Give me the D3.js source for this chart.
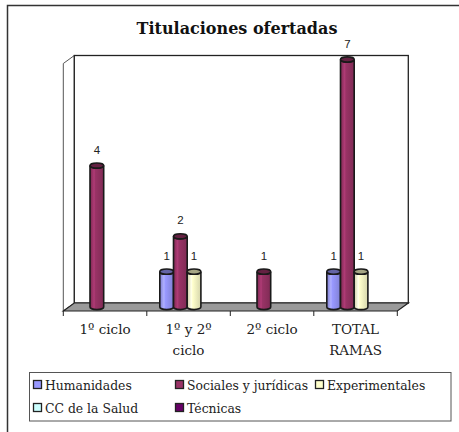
<!DOCTYPE html>
<html><head><meta charset="utf-8">
<script src="https://cdnjs.cloudflare.com/ajax/libs/d3/7.8.5/d3.min.js"></script>
<style>body{margin:0;background:#fff}svg{display:block}.serif{font-family:"DejaVu Serif","Liberation Serif",serif}.sans{font-family:"Liberation Sans",Arial,sans-serif}</style></head>
<body>
<script>
// ---- data ----
const title = "Titulaciones ofertadas";
const categories = ["1º ciclo", "1º y 2º ciclo", "2º ciclo", "TOTAL RAMAS"];
const categoryLines = [["1º ciclo"], ["1º y 2º", "ciclo"], ["2º ciclo"], ["TOTAL", "RAMAS"]];
const seriesNames = ["Humanidades", "Sociales y jurídicas", "Experimentales", "CC de la Salud", "Técnicas"];
const humanidades = [0, 1, 0, 1];
const socialesJuridicas = [4, 2, 1, 7];
const experimentales = [0, 1, 0, 1];
const ccSalud = [0, 0, 0, 0];
const tecnicas = [0, 0, 0, 0];
const seriesValues = [humanidades, socialesJuridicas, experimentales, ccSalud, tecnicas];
const seriesColors = ["#9999FF", "#993366", "#FFFFCC", "#CCFFFF", "#660066"];
const yMax = 7;

// ---- layout ----
const W = 459, H = 432;
const svg = d3.select("body").append("svg").attr("width", W).attr("height", H);
const defs = svg.append("defs");

const depthX = 11, depthY = 8;
const frontLeft = 63.3, frontRight = 397.3;
const baseMid = 307;
const x = d3.scaleBand().domain(categories).range([frontLeft, frontRight]).padding(0);
const y = d3.scaleLinear().domain([0, yMax]).range([baseMid, 59.5]);
const barW = 13.7;
const sx = d3.scaleBand().domain(seriesNames).range([-barW * 2.5, barW * 2.5]).padding(0);

// frame
svg.append("path").attr("d", `M7.5,${H} V5.5 H${W}`).attr("fill", "none").attr("stroke", "#333").attr("stroke-width", 1.5);

// title
svg.append("text").attr("class", "serif").attr("x", 237).attr("y", 34).attr("text-anchor", "middle")
  .attr("font-weight", "bold").attr("font-size", 16)
  .attr("fill", "#111").text(title);

const fy = y(0) + depthY / 2, by = y(0) - depthY / 2;
const topBack = y(yMax) - depthY / 2, topFront = y(yMax) + depthY / 2;
const bl = frontLeft + depthX, br = frontRight + depthX;

// left side wall
svg.append("path").attr("d", `M${frontLeft},${fy} L${frontLeft},${topFront} L${bl},${topBack} L${bl},${by} Z`)
  .attr("fill", "#fff").attr("stroke", "#555").attr("stroke-width", 1);
// back wall
svg.append("rect").attr("x", bl).attr("y", topBack).attr("width", br - bl).attr("height", by - topBack)
  .attr("fill", "#fff").attr("stroke", "#222").attr("stroke-width", 1.3);
// floor
svg.append("path").attr("d", `M${frontLeft},${fy} L${bl},${by} L${br},${by} L${frontRight},${fy} Z`)
  .attr("fill", "#9a9a9a").attr("stroke", "#222").attr("stroke-width", 1.2);

// ticks
const tickXs = categories.map(c => x(c)).concat([frontRight]);
svg.selectAll("line.tick").data(tickXs).enter().append("line")
  .attr("x1", d => d).attr("x2", d => d).attr("y1", fy).attr("y2", fy + 5)
  .attr("stroke", "#222").attr("stroke-width", 1);

// category labels
categories.forEach((c, i) => {
  const t = svg.append("text").attr("class", "serif").attr("text-anchor", "middle")
    .attr("font-size", 13.5).attr("fill", "#222");
  categoryLines[i].forEach((ln, j) => {
    t.append("tspan").attr("x", x(c) + x.bandwidth() / 2).attr("y", 334 + j * 21).text(ln);
  });
});

// gradients
seriesColors.forEach((col, i) => {
  const g = defs.append("linearGradient").attr("id", "g" + i).attr("x1", 0).attr("x2", 1).attr("y1", 0).attr("y2", 0);
  const c = d3.color(col);
  g.append("stop").attr("offset", "0%").attr("stop-color", c.darker(0.6));
  g.append("stop").attr("offset", "30%").attr("stop-color", c.brighter(0.4));
  g.append("stop").attr("offset", "40%").attr("stop-color", c);
  g.append("stop").attr("offset", "100%").attr("stop-color", c.darker(0.5));
});

// bars (cylinders)
const rx = barW / 2, ry = 2.6;
seriesNames.forEach((s, si) => {
  seriesValues[si].forEach((v, ci) => {
    if (!v) return;
    const cx = x(categories[ci]) + x.bandwidth() / 2 + depthX / 2 + sx(s) + barW / 2;
    const x0 = cx - rx, x1 = cx + rx;
    const yt = y(v), yb = y(0);
    const g = svg.append("g");
    g.append("path")
      .attr("d", `M${x0},${yt} L${x0},${yb} A${rx},${ry} 0 0 0 ${x1},${yb} L${x1},${yt} A${rx},${ry} 0 0 1 ${x0},${yt} Z`)
      .attr("fill", `url(#g${si})`).attr("stroke", "#1a1a1a").attr("stroke-width", 1.6);
    g.append("ellipse").attr("cx", cx).attr("cy", yt).attr("rx", rx).attr("ry", ry)
      .attr("fill", d3.color(seriesColors[si]).darker(1.2)).attr("stroke", "#1a1a1a").attr("stroke-width", 1.6);
    svg.append("text").attr("class", "sans").attr("x", cx).attr("y", yt - 12).attr("text-anchor", "middle")
      .attr("font-size", 11.5).attr("fill", "#222").text(v);
  });
});

// legend
svg.append("rect").attr("x", 29.5).attr("y", 372.5).attr("width", 421.5).attr("height", 48.5)
  .attr("fill", "#fff").attr("stroke", "#555").attr("stroke-width", 1);
const legCols = [33, 175, 315], legRows = [385, 408];
seriesNames.forEach((s, i) => {
  const lx = legCols[i % 3], ly = legRows[Math.floor(i / 3)];
  svg.append("rect").attr("x", lx + 0.5).attr("y", ly - 4.5).attr("width", 8).attr("height", 8)
    .attr("fill", seriesColors[i]).attr("stroke", "#222").attr("stroke-width", 1.3);
  svg.append("text").attr("class", "serif").attr("x", lx + 12).attr("y", ly + 4.5)
    .attr("font-size", 12.4).attr("fill", "#222").text(s);
});
</script>
</body></html>
